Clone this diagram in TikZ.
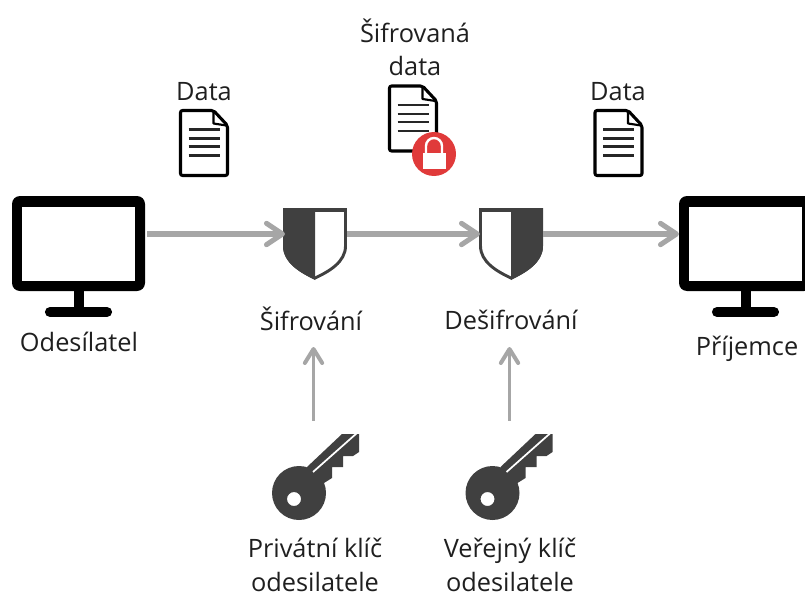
\documentclass[tikz,border=0pt]{standalone}
\usepackage{fontspec}
\setmainfont{Open Sans}
\usetikzlibrary{arrows.meta}
\definecolor{flow}{HTML}{A6A6A6}
\definecolor{icondark}{HTML}{404040}
\definecolor{lockred}{HTML}{E03A3A}
\tikzset{
  x=0.75pt,y=-0.75pt,
  label/.style={font=\fontsize{19pt}{22pt}\selectfont,text=black!88,inner sep=0pt,align=center},
  mainflow/.style={draw=flow,line width=3.8pt,-{Straight Barb[length=12pt,width=16pt,line width=3.8pt,round]}},
  keyflow/.style={draw=flow,line width=2.7pt,-{Straight Barb[length=10.5pt,width=13pt,line width=3pt,round]}},
  stand/.style={draw=black,line width=8pt},
  base/.style={draw=black,line width=7.6pt,line cap=round},
  docpage/.style={draw=black,line width=2.3pt,fill=white,line join=round,rounded corners=1.5pt},
  docfold/.style={draw=black,line width=1.6pt,line join=round},
  docline/.style={draw=black!85,line width=1.7pt},
  shieldout/.style={draw=icondark,line width=2.2pt,line join=miter},
  darkfill/.style={fill=icondark},
}
% document icon: #1,#2 top-left corner
\newcommand{\docicon}[2]{%
  \begin{scope}[shift={(#1,#2)}]
    \path[docpage] (0,0) -- (33,0) -- (47,15) -- (47,65) -- (0,65) -- cycle;
    \path[docfold] (33,1) -- (33,13) -- (46,15);
    \foreach \yy in {19,28,36,45} \path[docline] (8,\yy) -- (39,\yy);
  \end{scope}}
% monitor: #1 left outer edge
\newcommand{\monitoricon}[1]{%
  \begin{scope}[shift={(#1,0)}]
    \path[stand] (67,291) -- (67,309);
    \path[base] (38,312) -- (95,312);
    \path[fill=black,rounded corners=6pt] (0,196) rectangle (133,291);
    \path[fill=white] (10,207) rectangle (123,281);
  \end{scope}}
% shield: #1 centre x, #2 =1 dark left half, =-1 dark right half
\newcommand{\shieldicon}[2]{%
  \begin{scope}[shift={(#1,208)},xscale=#2]
    \path[fill=white] (-32,0) -- (32,0) -- (32,38) .. controls (32,55) and (14,65) .. (0,72) .. controls (-14,65) and (-32,55) .. (-32,38) -- cycle;
    \path[darkfill] (-32,0) -- (0,0) -- (0,72) .. controls (-14,65) and (-32,55) .. (-32,38) -- cycle;
    \path[shieldout] (-30.5,1.5) -- (30.5,1.5) -- (30.5,38) .. controls (30.5,54) and (14,63.5) .. (0,70) .. controls (-14,63.5) and (-30.5,54) .. (-30.5,38) -- cycle;
    \path[darkfill] (-32,0) rectangle (32,4);
  \end{scope}}
% key: #1,#2 head centre
\newcommand{\keyicon}[2]{%
  \begin{scope}[shift={(#1,#2)}]
    \path[darkfill,even odd rule] (0,0) circle (27) (-5,6) circle (7);
    \path[darkfill] (8,-26) -- (43,-59) -- (60,-59) -- (60,-41) -- (54,-37) -- (44,-37) -- (44,-26) -- (33,-26) -- (33,-15) -- (25,-10) -- (10,-5) -- cycle;
    \path[draw=white,line width=1.3pt] (14,-21) -- (58,-60);
  \end{scope}}
\begin{document}
\begin{tikzpicture}
\useasboundingbox (0,0) rectangle (805,599);
\begin{scope}
\clip (0,0) rectangle (805,599);
\monitoricon{12}
\monitoricon{679}
\shieldicon{315}{1}
\shieldicon{511}{-1}
\docicon{180.5}{110.5}
\docicon{389.5}{86}
\docicon{595}{110.5}
% lock badge
\path[fill=lockred] (434,154) circle (22);
\path[draw=white,line width=1.8pt] (426,155) -- (426,146) arc[start angle=180,end angle=0,x radius=8,y radius=-8] -- (442,155);
\path[fill=white] (422.5,153) rectangle (445.5,169);
\keyicon{299}{493}
\keyicon{492.5}{493}
\end{scope}

\coordinate (mon1e) at (147,234);
\coordinate (sh1w) at (285,234);
\coordinate (sh1e) at (347,234);
\coordinate (sh2w) at (480,234);
\coordinate (sh2e) at (543,234);
\coordinate (mon2w) at (679,234);
\coordinate (key1t) at (313.5,420.5);
\coordinate (key2t) at (509.5,420.5);
\coordinate (enct) at (313.5,347);
\coordinate (dect) at (509.5,347);

\draw[mainflow] (mon1e) -- (sh1w);
\draw[mainflow] (sh1e) -- (sh2w);
\draw[mainflow] (sh2e) -- (mon2w);
\draw[keyflow] (key1t) -- (enct);
\draw[keyflow] (key2t) -- (dect);

\node[label] (data1) at (204,92) {Data};
\node[label] (data2) at (618,92) {Data};
\node[label] (encdata1) at (415,31) {Šifrovaná};
\node[label] (encdata2) at (415,66) {data};
\node[label] (sender) at (79,342) {Odesílatel};
\node[label] (receiver) at (747,349) {Příjemce};
\node[label] (enc) at (311,319) {Šifrování};
\node[label] (dec) at (511,320) {Dešifrování};
\node[label,anchor=base] (privkey1) at (315,557) {Privátní klíč};
\node[label,anchor=base] (privkey2) at (315,591) {odesilatele};
\node[label,anchor=base] (pubkey1) at (510,557) {Veřejný klíč};
\node[label,anchor=base] (pubkey2) at (510,591) {odesilatele};
\end{tikzpicture}
\end{document}
